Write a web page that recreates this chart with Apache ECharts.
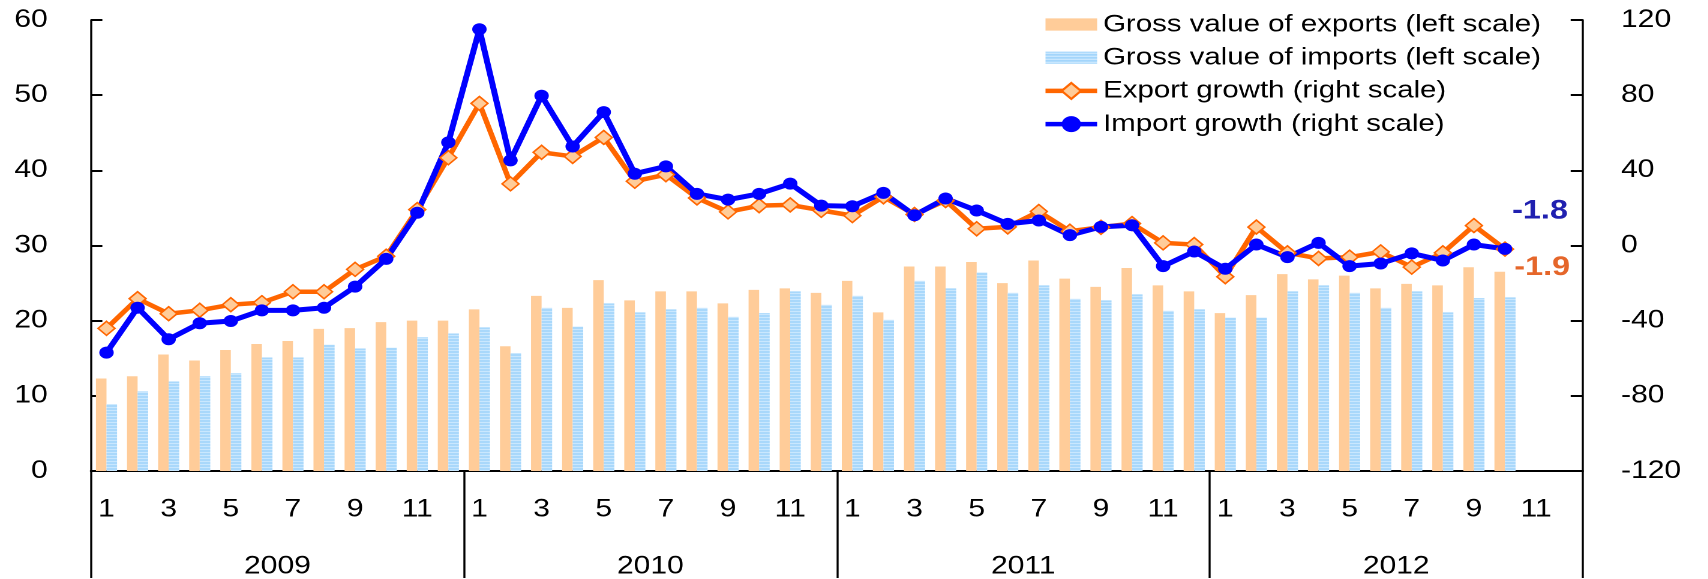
<!DOCTYPE html>
<html>
<head>
<meta charset="utf-8">
<script src="https://cdn.jsdelivr.net/npm/echarts@6/dist/echarts.min.js"></script>
<style>
html, body { margin: 0; padding: 0; background: #fff; overflow: hidden; }
/* the original picture is stretched sideways, so the chart is drawn narrow and widened */
#chart { width: 1423px; height: 579px; transform: scaleX(1.2); transform-origin: 0 0; }
</style>
</head>
<body>
<div id="chart"></div>
<script>
const years = ['2009', '2010', '2011', '2012'];
const monthNames = ['1', '2', '3', '4', '5', '6', '7', '8', '9', '10', '11', '12'];

const exportValue = [
    12.3, 12.6, 15.5, 14.7, 16.1, 16.9, 17.3, 18.9, 19.0, 19.8, 20.0, 20.0,
    21.5, 16.6, 23.3, 21.7, 25.4, 22.7, 23.9, 23.9, 22.3, 24.1, 24.3, 23.7,
    25.3, 21.1, 27.2, 27.2, 27.8, 25.0, 28.0, 25.6, 24.5, 27.0, 24.7, 23.9,
    21.0, 23.4, 26.2, 25.5, 26.0, 24.3, 24.9, 24.7, 27.1, 26.5, null, null
];
const importValue = [
    8.9, 10.6, 11.9, 12.6, 13.0, 15.1, 15.1, 16.8, 16.3, 16.4, 17.8, 18.3,
    19.1, 15.7, 21.7, 19.2, 22.3, 21.1, 21.5, 21.7, 20.5, 21.0, 23.9, 22.1,
    23.3, 20.1, 25.3, 24.3, 26.4, 23.7, 24.7, 22.9, 22.7, 23.5, 21.3, 21.5,
    20.4, 20.4, 23.9, 24.7, 23.7, 21.7, 23.9, 21.1, 23.0, 23.1, null, null
];
const exportGrowth = [
    -44.1, -28.3, -36.3, -34.5, -31.5, -30.4, -24.6, -24.6, -12.7, -5.7, 19.1, 46.7,
    75.6, 32.8, 49.6, 47.4, 57.5, 34.2, 37.7, 25.3, 17.9, 21.2, 21.6, 18.7,
    15.9, 25.9, 16.5, 23.9, 8.9, 9.9, 18.1, 7.6, 9.7, 11.7, 1.4, 0.5,
    -16.6, 9.8, -3.9, -6.9, -6.2, -3.4, -11.5, -3.9, 10.6, -1.9, null, null
];
const importGrowth = [
    -57.0, -33.1, -49.9, -41.4, -40.2, -34.5, -34.5, -33.1, -21.9, -7.1, 17.4, 54.9,
    115.1, 45.3, 79.7, 52.7, 71.0, 38.2, 42.1, 27.5, 24.4, 27.5, 32.9, 21.2,
    20.9, 28.0, 16.1, 25.0, 18.6, 11.5, 13.3, 5.5, 9.9, 10.8, -11.0, -3.2,
    -12.4, 0.5, -6.2, 1.4, -11.0, -9.6, -4.2, -8.0, 0.5, -1.8, null, null
];
const names = [
    'Gross value of exports (left scale)',
    'Gross value of imports (left scale)',
    'Export growth (right scale)',
    'Import growth (right scale)'
];

const months = [];
years.forEach(() => monthNames.forEach(m => months.push(m)));
const lastIdx = 45; // 2012-10, the last month with data

const font = '"Liberation Sans", Arial, sans-serif';

// light blue bars with thin horizontal stripes
const stripe = document.createElement('canvas');
stripe.width = 4;
stripe.height = 3;
const g = stripe.getContext('2d');
g.fillStyle = '#a3d5fb';
g.fillRect(0, 0, 4, 2);
g.fillStyle = '#d6eeff';
g.fillRect(0, 2, 4, 1);

const withEndLabel = (arr, color, dy) => arr.map((v, i) => i === lastIdx ? {
    value: v,
    label: {
        show: true, position: 'right', distance: 0, offset: [0, dy],
        color: color, fontSize: 27, fontWeight: 'bold', fontFamily: font
    }
} : v);

const chart = echarts.init(document.getElementById('chart'), null, { renderer: 'canvas', devicePixelRatio: 2 });
chart.setOption({
    animation: false,
    grid: { left: 75.8, right: 104.1, top: 20, bottom: 107 },
    legend: {
        orient: 'vertical', left: 864, top: 7, itemGap: 8.2,
        itemWidth: 43, itemHeight: 20,
        textStyle: { fontSize: 24.5, color: '#000', fontFamily: font },
        lineStyle: { width: 4.5 },
        data: [
            { name: names[0], icon: 'path://M0,0H39V11H0Z' },
            { name: names[1], icon: 'path://M0,0H39V11H0Z' },
            names[2], names[3]
        ]
    },
    xAxis: [{
        type: 'category', data: months, position: 'bottom', boundaryGap: true,
        axisLine: { show: true, onZero: false, lineStyle: { color: '#000', width: 2 } },
        axisTick: { show: false },
        axisLabel: { interval: 1, margin: 26, fontSize: 25, color: '#000', fontFamily: font }
    }, {
        type: 'category', data: years, position: 'bottom', boundaryGap: true,
        axisLine: { show: false, onZero: false },
        axisTick: { show: true, length: 107, interval: 0, alignWithLabel: false, lineStyle: { color: '#000', width: 1.7 } },
        axisLabel: { interval: 0, margin: 83, fontSize: 25, color: '#000', fontFamily: font }
    }],
    yAxis: [{
        type: 'value', min: 0, max: 60, interval: 10, position: 'left',
        axisLine: { show: true, lineStyle: { color: '#000', width: 1.7 } },
        axisTick: { show: true, inside: true, length: 9.5, lineStyle: { color: '#000', width: 2 } },
        axisLabel: { margin: 36, fontSize: 25, color: '#000', fontFamily: font },
        splitLine: { show: false }
    }, {
        type: 'value', min: -120, max: 120, interval: 40, position: 'right',
        axisLine: { show: true, lineStyle: { color: '#000', width: 1.7 } },
        axisTick: { show: true, inside: true, length: 10, lineStyle: { color: '#000', width: 2 } },
        axisLabel: { margin: 32, fontSize: 25, color: '#000', fontFamily: font },
        splitLine: { show: false }
    }],
    series: [{
        name: names[0], type: 'bar', data: exportValue,
        barWidth: 8.8, barGap: '0%',
        itemStyle: { color: '#ffcc99' }
    }, {
        name: names[1], type: 'bar', data: importValue,
        barWidth: 8.8,
        itemStyle: { color: { image: stripe, repeat: 'repeat' } }
    }, {
        name: names[2], type: 'line', yAxisIndex: 1,
        data: withEndLabel(exportGrowth, '#e5662a', 18.5),
        symbol: 'diamond', symbolSize: 14, showAllSymbol: true,
        lineStyle: { color: '#ff6600', width: 4.5 },
        itemStyle: { color: '#ffcc99', borderColor: '#ff6600', borderWidth: 1.5 }
    }, {
        name: names[3], type: 'line', yAxisIndex: 1,
        data: withEndLabel(importGrowth, '#2020b0', -38),
        symbol: 'circle', symbolSize: 12, showAllSymbol: true,
        lineStyle: { color: '#0000ff', width: 5 },
        itemStyle: { color: '#0000ff' }
    }]
});
</script>
</body>
</html>
